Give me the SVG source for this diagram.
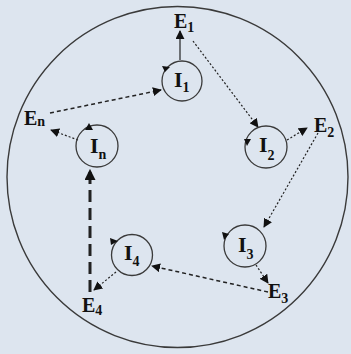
<svg xmlns="http://www.w3.org/2000/svg" width="351" height="354" viewBox="0 0 351 354">
<style>
.bg{fill:#dde5ef}
.ring{fill:none;stroke:#3a3a3a;stroke-width:1.4}
.node{fill:none;stroke:#3a3a3a;stroke-width:1.3}
.lbl{font-family:"Liberation Serif","Times New Roman",serif;font-weight:bold;fill:#111;font-size:20px}
.big{font-size:22px}
.sub{font-size:14px}
.c{fill:none;stroke:#222}
.dot{stroke-width:1.2;stroke-dasharray:2 2}
.dash{stroke-width:1.5;stroke-dasharray:4 3}
.thick{stroke-width:3;stroke-dasharray:12 6}
.solid{stroke-width:1.2}
.tri{fill:#111}
</style>
<defs>
<marker id="ah" viewBox="0 0 10 10" refX="9" refY="5" markerWidth="9" markerHeight="9" markerUnits="userSpaceOnUse" orient="auto">
<path d="M0,0 L10,5 L0,10 z" fill="#111"/>
</marker>
<marker id="ahb" viewBox="0 0 10 10" refX="9" refY="5" markerWidth="11" markerHeight="11" markerUnits="userSpaceOnUse" orient="auto">
<path d="M0,0 L10,5 L0,10 z" fill="#111"/>
</marker>
</defs>
<rect class="bg" x="0" y="0" width="351" height="354"/>
<circle class="ring" cx="177.5" cy="177" r="170.5"/>

<g id="connectors">
<line class="c solid" x1="180" y1="60" x2="180" y2="31" marker-end="url(#ah)"/>
<line class="c dot" x1="193" y1="41" x2="258" y2="127" marker-end="url(#ah)"/>
<line class="c dot" x1="287" y1="140" x2="307" y2="128" marker-end="url(#ah)"/>
<line class="c dot" x1="318" y1="133" x2="264" y2="227" marker-end="url(#ah)"/>
<line class="c dot" x1="256" y1="265" x2="268" y2="283" marker-end="url(#ah)"/>
<line class="c dash" x1="268" y1="292" x2="152" y2="266" marker-end="url(#ah)"/>
<line class="c dot" x1="116" y1="272" x2="94" y2="290" marker-end="url(#ah)"/>
<line class="c thick" x1="90" y1="292" x2="90" y2="170" marker-end="url(#ahb)"/>
<line class="c dot" x1="78" y1="140" x2="51" y2="130" marker-end="url(#ah)"/>
<line class="c dash" x1="50" y1="113" x2="161" y2="90" marker-end="url(#ah)"/>
</g>

<g id="I1">
<circle class="node" cx="182" cy="81" r="20"/>
<path class="tri" d="M162,66 L170,67 L165,72 z"/>
<text class="lbl big" x="174" y="87">I<tspan class="sub" dy="5">1</tspan></text>
</g>
<g id="I2">
<circle class="node" cx="266" cy="147" r="21"/>
<path class="tri" d="M244,139 L251,139 L247,146 z"/>
<text class="lbl big" x="259" y="152">I<tspan class="sub" dy="8">2</tspan></text>
</g>
<g id="I3">
<circle class="node" cx="245" cy="246" r="21"/>
<path class="tri" d="M222,232 L229,234 L224,240 z"/>
<text class="lbl big" x="238" y="252">I<tspan class="sub" dy="7">3</tspan></text>
</g>
<g id="I4">
<circle class="node" cx="132" cy="255" r="20.5"/>
<path class="tri" d="M110,238 L118,241 L111,245 z"/>
<text class="lbl big" x="124" y="260">I<tspan class="sub" dy="6">4</tspan></text>
</g>
<g id="In">
<circle class="node" cx="97" cy="146" r="21"/>
<path class="tri" d="M85,130 L89,123 L93,130 z"/>
<text class="lbl big" x="90" y="153">I<tspan class="sub" dy="6" font-size="16">n</tspan></text>
</g>

<g id="E1"><text class="lbl" x="174" y="28">E<tspan class="sub" dy="4">1</tspan></text></g>
<g id="E2"><text class="lbl" x="314" y="132">E<tspan class="sub" dy="5">2</tspan></text></g>
<g id="E3"><text class="lbl" x="268" y="298">E<tspan class="sub" dy="5">3</tspan></text></g>
<g id="E4"><text class="lbl" x="82" y="312">E<tspan class="sub" dy="3">4</tspan></text></g>
<g id="En"><text class="lbl" x="24" y="125">E<tspan class="sub" dy="1" font-size="16">n</tspan></text></g>
</svg>
